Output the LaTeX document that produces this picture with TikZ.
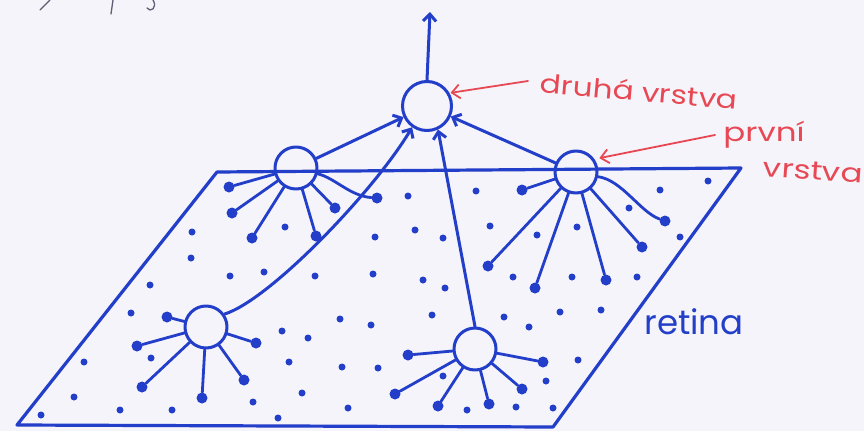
\documentclass[tikz,border=0pt]{standalone}
\usepackage{fontspec}
\setmainfont{Poppins}
\usetikzlibrary{arrows.meta}
\definecolor{ink}{RGB}{35,62,200}
\definecolor{redink}{RGB}{232,72,84}
\definecolor{paper}{RGB}{244,244,250}
\definecolor{pencil}{RGB}{95,95,115}

\begin{document}
\begin{tikzpicture}[x=1pt,y=-1pt,line cap=round,line join=round,
  neuron/.style={circle,draw=ink,line width=3pt,minimum size=42pt,inner sep=0pt},
  dendrite/.style={draw=ink,line width=2.8pt},
  axon/.style={draw=ink,line width=3pt,-{Straight Barb[length=7pt,width=13pt]}},
  synapse/.style={circle,fill=ink,minimum size=11pt,inner sep=0pt},
  speck/.style={circle,fill=ink,minimum size=7pt,inner sep=0pt},
  edge/.style={draw=ink,line width=3.2pt},
  pointer/.style={draw=redink,line width=1.8pt,-{Straight Barb[length=8pt,width=14pt]}},
  redtext/.style={text=redink,font=\fontsize{26}{28}\selectfont,inner sep=0pt},
  inktext/.style={text=ink,font=\fontsize{34}{36}\selectfont,inner sep=0pt}]

% sheet and frame
\fill[paper] (0,0) rectangle (864,431);
\useasboundingbox (0,0) rectangle (864,431);

% pencil marks at the top edge
\draw[pencil,line width=1.3pt] (50,0) -- (40,10);
\draw[pencil,line width=1.3pt] (113,0) -- (111,14);
\draw[pencil,line width=1.3pt] (153,0) .. controls (158,8) and (150,13) .. (147,8);

% retina
\coordinate (rTL) at (217,172);
\coordinate (rTR) at (741,168);
\coordinate (rBR) at (553,427);
\coordinate (rBL) at (17,425);
\draw[edge] (rTL) -- (rTR) -- (rBR) -- (rBL) -- cycle;

% receptor specks on the retina
\foreach \x/\y [count=\i] in {285/227,192/232,375/237,191/258,230/276,264/272,150/285,
    131/313,151/358,282/331,289/362,253/402,120/410,172/410,278/418,84/362,74/397,41/415,
    476/191,490/226,537/235,577/227,513/277,572/277,637/277,629/208,660/190,680/237,708/181,
    408/196,415/230,443/238,315/276,373/274,423/280,445/288,340/319,371/325,308/338,
    342/367,378/368,302/393,348/408,601/310,
    432/315,504/317,529/327,560/312,443/376,546/381,467/410,516/407,553/408,578/360}
  \node[speck] (sp\i) at (\x,\y) {};

% neurons
\node[neuron,minimum size=49pt] (out) at (427,106) {};
\node[neuron] (n1) at (296,168) {};
\node[neuron] (n2) at (576,172) {};
\node[neuron] (n3) at (206,327) {};
\node[neuron] (n4) at (475,349) {};

% dendrites of the first layer
\foreach \n/\x/\y in {n1/229/187,n1/232/213,n1/252/238,n1/316/236,n1/335/208,
    n2/522/190,n2/488/266,n2/535/288,n2/606/280,n2/642/247,
    n3/167/317,n3/137/346,n3/142/387,n3/202/398,n3/244/380,n3/256/343,
    n4/408/355,n4/395/394,n4/438/406,n4/489/404,n4/522/389,n4/543/362}
  {\node[synapse] (s-\n-\x) at (\x,\y) {};
   \draw[dendrite] (\n) -- (s-\n-\x);}
\node[synapse] (s-n1-w) at (377,198) {};
\draw[dendrite] (n1.-15) .. controls (335,178) and (350,196) .. (s-n1-w);
\node[synapse] (s-n2-w) at (665,221) {};
\draw[dendrite] (n2.-12) .. controls (622,180) and (640,212) .. (s-n2-w);

% axons to the second layer
\coordinate (up) at (430,12);
\draw[axon] (out.north) -- (up);
\draw[axon] (n1) -- (out);
\draw[axon] (n2) -- (out);
\draw[axon] (n4.north) -- (out.-65);
\draw[axon] (n3.35) .. controls (270,300) and (375,190) .. (out.-125);

% labels
\node[redtext,rotate=-5] (lab2) at (639,91) {\scalebox{1.2}[1]{druhá vrstva}};
\coordinate (tail2) at (528,81);
\draw[pointer,shorten >=1pt] (tail2) -- (out.30);
\node[redtext] (lab1a) at (764,135) {\scalebox{1.25}[1]{první}};
\node[redtext,rotate=-4] (lab1b) at (813,171) {\scalebox{1.25}[1]{vrstva}};
\coordinate (tail1) at (715,135);
\draw[pointer,shorten >=5pt] (tail1) -- (n2.35);
\node[inktext] (ret) at (694,322) {retina};
\end{tikzpicture}
\end{document}
